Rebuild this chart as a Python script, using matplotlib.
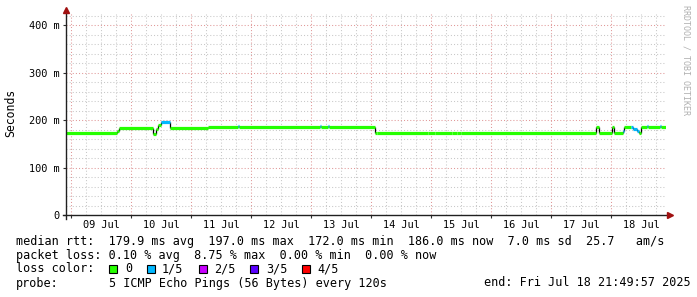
#!/usr/bin/env python3
"""
SmokePing style latency graph: median RTT over 10 days, coloured by packet loss.
"""

import numpy as np
import matplotlib
matplotlib.use("Agg")
import matplotlib.pyplot as plt

W, H, DPI = 697, 297, 100
MONO = "DejaVu Sans Mono"

# ---- data -----------------------------------------------------------------
# time axis in days of July 2025 (9.0 = 09 Jul 00:00)
t_start = 8 + (21 + 49 / 60) / 24
t_end = 18 + (21 + 49 / 60) / 24

# step series: segment start time, median rtt (ms), lost pings (of 5)
seg_t = [t_start, 9.765, 9.80, 10.36, 10.41, 10.44, 10.49, 10.64, 11.27,
         11.77, 11.785, 13.14, 13.155, 13.28, 13.295, 14.06, 14.09, 14.94,
         15.06, 15.34, 15.42, 15.50, 17.735, 17.79, 18.005, 18.05, 18.20,
         18.215, 18.33, 18.36, 18.42, 18.46, 18.50, 18.59, 18.605, 18.81,
         18.825]
seg_rtt = [172, 178, 184, 171, 181, 190, 197, 184, 186,
           187, 186, 187, 186, 187, 186, 172.5, 173.5, 172.5,
           173.5, 172.5, 173.5, 172.5, 186, 172.5, 186, 172.5, 178,
           186, 186, 181, 177, 172, 186, 187, 186, 187,
           186]
seg_loss = [0, 0, 0, 0, 0, 0, 1, 0, 0,
            1, 0, 1, 0, 1, 0, 0, 0, 0,
            0, 0, 0, 0, 0, 0, 0, 0, 1,
            0, 1, 1, 1, 0, 0, 1, 0, 1,
            0]

day_labels = ["09 Jul", "10 Jul", "11 Jul", "12 Jul", "13 Jul",
              "14 Jul", "15 Jul", "16 Jul", "17 Jul", "18 Jul"]
day_label_pos = [9.5, 10.5, 11.5, 12.5, 13.5, 14.5, 15.5, 16.5, 17.5, 18.5]

y_ticks = [0, 100, 200, 300, 400]

loss_names = ["0", "1/5", "2/5", "3/5", "4/5"]
loss_colors = ["#26ff00", "#00b8ff", "#c800ff", "#5a00ff", "#ff0000"]

legend_lines = [
    "median rtt:  179.9 ms avg  197.0 ms max  172.0 ms min  186.0 ms now  7.0 ms sd  25.7   am/s",
    "packet loss: 0.10 % avg  8.75 % max  0.00 % min  0.00 % now",
]
probe_text = "5 ICMP Echo Pings (56 Bytes) every 120s"
end_text = "end: Fri Jul 18 21:49:57 2025"

# ---- layout (pixels) ------------------------------------------------------
PX_LEFT, PX_RIGHT, PX_BOTTOM = 66, 666, 215
Y_TOP = 425
PX_PER_MS = 0.474
plot_h = Y_TOP * PX_PER_MS

fig = plt.figure(figsize=(W / DPI, H / DPI), dpi=DPI, facecolor="white")
ax = fig.add_axes([PX_LEFT / W, (H - PX_BOTTOM) / H,
                   (PX_RIGHT - PX_LEFT) / W, plot_h / H])
ax.set_xlim(t_start, t_end)
ax.set_ylim(0, Y_TOP)
for s in ax.spines.values():
    s.set_visible(False)

# grid
minor_c, major_c = "#c8c8c8", "#e09898"
dot = (0, (1, 2))
for v in np.arange(20, Y_TOP, 20):
    if v % 100:
        ax.axhline(v, color=minor_c, lw=0.75, ls=dot, zorder=1)
for d in np.arange(9, 19.01, 0.25):
    if d % 1:
        ax.axvline(d, color=minor_c, lw=0.75, ls=dot, zorder=1)
for v in y_ticks[1:]:
    ax.axhline(v, color=major_c, lw=0.75, ls=dot, zorder=2)
for d in range(9, 19):
    ax.axvline(d, color=major_c, lw=0.75, ls=dot, zorder=2)

# median rtt: black connectors then coloured steps
seg_end = seg_t[1:] + [t_end]
for i in range(1, len(seg_t)):
    if seg_rtt[i] != seg_rtt[i - 1]:
        ax.vlines(seg_t[i], seg_rtt[i - 1], seg_rtt[i], color="black",
                  lw=0.9, zorder=3)
for t0, t1, v, l in zip(seg_t, seg_end, seg_rtt, seg_loss):
    ax.hlines(v, t0, t1, color=loss_colors[l], lw=2.3, zorder=4,
              capstyle="butt")

# ticks and labels
ax.set_yticks(y_ticks)
ax.set_yticklabels([f"{v} m" if v else "0" for v in y_ticks],
                   fontfamily=MONO, fontsize=7.4)
ax.set_xticks(range(9, 19))
ax.set_xticklabels([])
ax.tick_params(axis="both", direction="out", length=2.3, width=0.8,
               color="#303030", pad=2.5)
for p, lab in zip(day_label_pos, day_labels):
    ax.text(p, -10 / plot_h * Y_TOP, lab, ha="center", va="center",
            fontfamily=MONO, fontsize=7.4)

# axes with arrows
ax.plot([0, 0], [-0.02, 1.01], transform=ax.transAxes, color="#202020",
        lw=1.0, clip_on=False, zorder=5)
ax.plot([-0.005, 1.003], [0, 0], transform=ax.transAxes, color="#202020",
        lw=1.0, clip_on=False, zorder=5)
ax.plot([0], [1.018], transform=ax.transAxes, marker="^", ms=4.5,
        color="#a01010", clip_on=False, zorder=6)
ax.plot([1.007], [0], transform=ax.transAxes, marker=">", ms=4.5,
        color="#a01010", clip_on=False, zorder=6)

fig.text(11 / W, 1 - 113 / H, "Seconds", rotation=90, ha="center",
         va="center", fontfamily=MONO, fontsize=8.3)
fig.text(686 / W, 1 - 5 / H, "RRDTOOL / TOBI OETIKER", rotation=-90,
         ha="center", va="top", fontfamily=MONO, fontsize=6.0, color="#b0b0b0")


def px_text(x, y, s, **kw):
    fig.text(x / W, 1 - y / H, s, ha="left", va="center",
             fontfamily=MONO, fontsize=8.45, **kw)


px_text(16, 241, legend_lines[0])
px_text(16, 255, legend_lines[1])
px_text(16, 269, "loss color:")
box_x = [109, 147, 199, 250, 302]
lab_x = [125, 162, 214, 266, 317]
for bx, lx, name, c in zip(box_x, lab_x, loss_names, loss_colors):
    fig.patches.append(plt.Rectangle((bx / W, 1 - 273 / H), 8 / W, 8 / H,
                                     transform=fig.transFigure, facecolor=c,
                                     edgecolor="black", lw=0.8))
    px_text(lx, 269, name)
px_text(16, 283, "probe:")
px_text(109, 283, probe_text)
px_text(484, 283, end_text)

fig.savefig("out.png", dpi=DPI, facecolor="white")
